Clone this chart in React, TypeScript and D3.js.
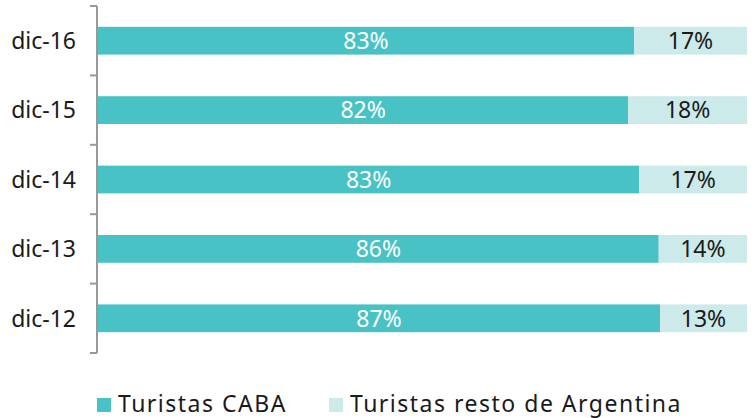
import { useEffect, useRef } from 'react';
import * as d3 from 'd3';

const categories = ['dic-16', 'dic-15', 'dic-14', 'dic-13', 'dic-12'];
const caba = [82.6, 81.7, 83.4, 86.4, 86.6];
const resto = [17.4, 18.3, 16.6, 13.6, 13.4];
const seriesNames = ['Turistas CABA', 'Turistas resto de Argentina'];
const colors = ['#48C2C5', '#CCEAEA'];

const W = 755;
const H = 418;
const FONT = '"Noto Sans", sans-serif';

export default function App() {
  const svgRef = useRef<SVGSVGElement>(null);

  useEffect(() => {
    if (!svgRef.current) return;
    const svg = d3.select(svgRef.current);
    svg.selectAll('*').remove();

    const axisX = 97;
    const x = d3.scaleLinear().domain([0, 100]).range([98, 747]);
    const y = d3.scaleBand<string>()
      .domain(categories)
      .range([6, 353])
      .paddingInner(0.6)
      .paddingOuter(0.3);

    const rows = categories.map((c, i) => ({ c, a: caba[i], b: resto[i] }));

    const g = svg.append('g');

    // barras CABA
    g.selectAll('rect.caba')
      .data(rows)
      .join('rect')
      .attr('class', 'caba')
      .attr('x', x(0))
      .attr('y', (d) => y(d.c)!)
      .attr('width', (d) => x(d.a) - x(0))
      .attr('height', y.bandwidth())
      .attr('fill', colors[0]);

    // barras resto
    g.selectAll('rect.resto')
      .data(rows)
      .join('rect')
      .attr('class', 'resto')
      .attr('x', (d) => x(d.a))
      .attr('y', (d) => y(d.c)!)
      .attr('width', (d) => x(d.a + d.b) - x(d.a))
      .attr('height', y.bandwidth())
      .attr('fill', colors[1]);

    // etiquetas
    g.selectAll('text.lab-a')
      .data(rows)
      .join('text')
      .attr('x', (d) => (x(0) + x(d.a)) / 2)
      .attr('y', (d) => y(d.c)! + y.bandwidth() / 2)
      .attr('dy', '0.36em')
      .attr('text-anchor', 'middle')
      .attr('font-family', FONT)
      .attr('font-size', 23)
      .attr('fill', '#ffffff')
      .text((d) => `${Math.round(d.a)}%`);

    g.selectAll('text.lab-b')
      .data(rows)
      .join('text')
      .attr('x', (d) => (x(d.a) + x(d.a + d.b)) / 2)
      .attr('y', (d) => y(d.c)! + y.bandwidth() / 2)
      .attr('dy', '0.36em')
      .attr('text-anchor', 'middle')
      .attr('font-family', FONT)
      .attr('font-size', 23)
      .attr('fill', '#1a1a1a')
      .text((d) => `${Math.round(d.b)}%`);

    // eje
    const [y0, y1] = y.range();
    const axis = svg.append('g').attr('stroke', '#999999').attr('stroke-width', 2);
    axis.append('line').attr('x1', axisX).attr('x2', axisX).attr('y1', y0).attr('y2', y1);
    d3.range(categories.length + 1).forEach((i) => {
      const ty = y0 + i * y.step();
      axis.append('line').attr('x1', axisX - 7).attr('x2', axisX).attr('y1', ty).attr('y2', ty);
    });

    svg.append('g')
      .selectAll('text')
      .data(categories)
      .join('text')
      .attr('x', 76)
      .attr('y', (d) => y(d)! + y.bandwidth() / 2)
      .attr('dy', '0.36em')
      .attr('text-anchor', 'end')
      .attr('font-family', FONT)
      .attr('font-size', 23)
      .attr('fill', '#1a1a1a')
      .text((d) => d);

    // leyenda
    const legX = [97, 329];
    const leg = svg.append('g');
    seriesNames.forEach((name, i) => {
      leg.append('rect')
        .attr('x', legX[i])
        .attr('y', 398)
        .attr('width', 14)
        .attr('height', 14)
        .attr('fill', colors[i]);
      leg.append('text')
        .attr('x', legX[i] + 21)
        .attr('y', 412)
        .attr('font-family', FONT)
        .attr('font-size', 23)
        .attr('letter-spacing', 1.5)
        .attr('fill', '#1a1a1a')
        .text(name);
    });
  }, []);

  return (
    <svg
      ref={svgRef}
      width={W}
      height={H}
      style={{ position: 'absolute', left: 0, top: 0, background: '#ffffff' }}
    />
  );
}
